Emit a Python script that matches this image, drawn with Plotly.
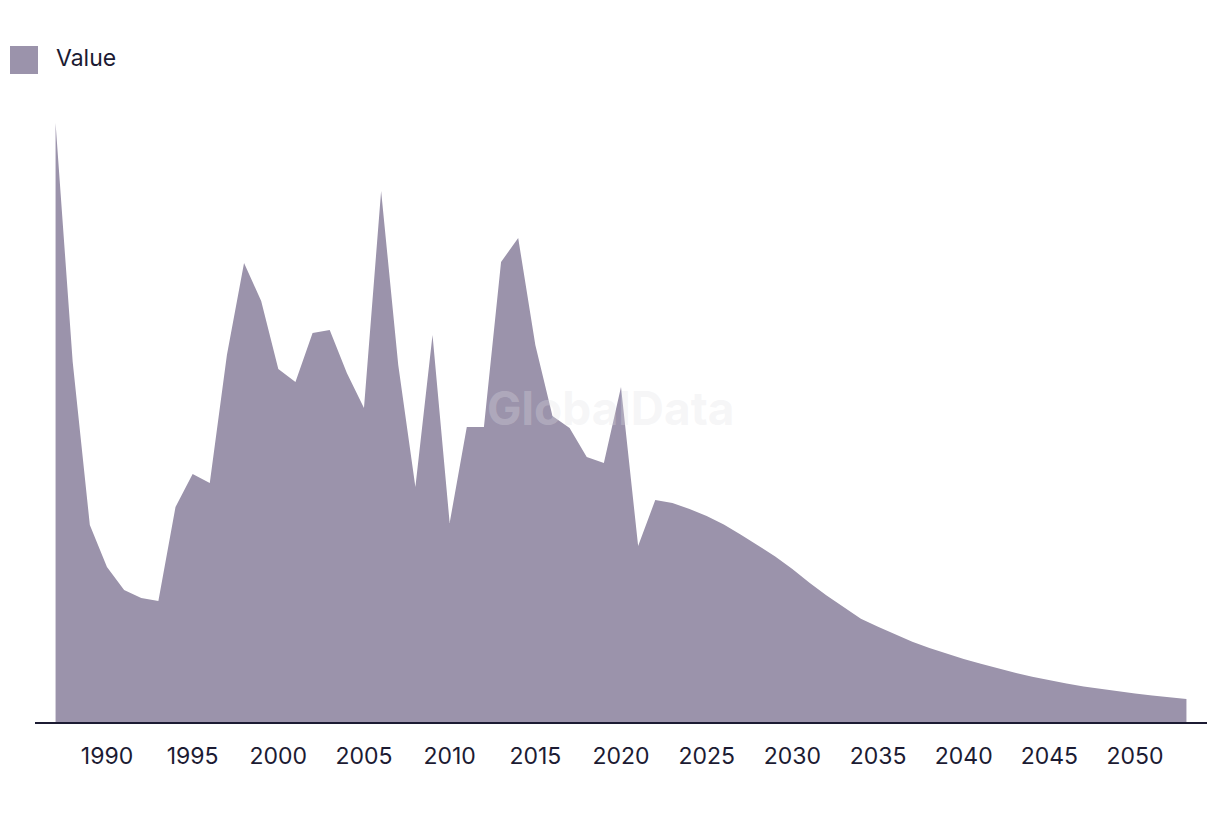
import plotly.graph_objects as go

years = list(range(1987, 2054))
values = [59.9, 36.0, 19.7, 15.5, 13.2, 12.4, 12.1, 21.5, 24.8, 23.9,
          36.7, 45.9, 42.1, 35.3, 34.0, 38.9, 39.2, 34.9, 31.4, 53.1,
          35.7, 23.5, 38.7, 19.9, 29.5, 29.5, 46.0, 48.4, 37.7, 30.6,
          29.4, 26.5, 25.9, 33.5, 17.6, 22.2, 21.9, 21.3, 20.6, 19.76,
          18.73, 17.66, 16.55, 15.29, 13.92, 12.66, 11.47, 10.33, 9.52, 8.75,
          8.02, 7.39, 6.82, 6.3, 5.82, 5.35, 4.92, 4.52, 4.16, 3.85,
          3.56, 3.3, 3.06, 2.85, 2.65, 2.46, 2.3]
tick_years = list(range(1990, 2051, 5))
series_name = "Value"

fill_color = "#9b93ab"
text_color = "#1c1b33"
font_family = "Inter, Roboto, 'Noto Sans', sans-serif"

fig = go.Figure()
fig.add_trace(go.Scatter(
    x=years, y=values, name=series_name,
    mode="lines", line=dict(width=0, color=fill_color),
    fill="tozeroy", fillcolor=fill_color,
    showlegend=False, hoverinfo="x+y",
))

fig.update_layout(
    width=1220, height=814,
    margin=dict(l=35, r=13, t=100, b=92),
    paper_bgcolor="white", plot_bgcolor="white",
    font=dict(family=font_family, color=text_color, size=23),
    showlegend=False,
    xaxis=dict(
        range=[1985.8, 2054.2],
        tickmode="array", tickvals=tick_years,
        ticktext=[str(y) for y in tick_years],
        showgrid=False, zeroline=False,
        showline=True, linecolor=text_color, linewidth=2,
        ticks="outside", ticklen=12, tickcolor="rgba(0,0,0,0)",
        tickfont=dict(size=23, color=text_color),
    ),
    yaxis=dict(
        range=[0, 62.2], visible=False, showgrid=False, zeroline=False,
    ),
    shapes=[dict(
        type="rect", xref="paper", yref="paper",
        x0=(10 - 35) / 1172, x1=(38 - 35) / 1172,
        y0=(722 - 74) / 622, y1=(722 - 46) / 622,
        fillcolor=fill_color, line=dict(width=0),
    )],
    annotations=[
        dict(text=series_name, xref="paper", yref="paper",
             x=(54 - 35) / 1172, y=(722 - 58) / 622,
             xanchor="left", yanchor="middle", showarrow=False,
             font=dict(size=23, color=text_color)),
        dict(text="<b>GlobalData</b>", xref="paper", yref="paper",
             x=(611 - 35) / 1172, y=(722 - 408) / 622,
             xanchor="center", yanchor="middle", showarrow=False,
             font=dict(size=46, color="rgba(225,225,230,0.30)")),
    ],
)

fig.write_html("out.html")
